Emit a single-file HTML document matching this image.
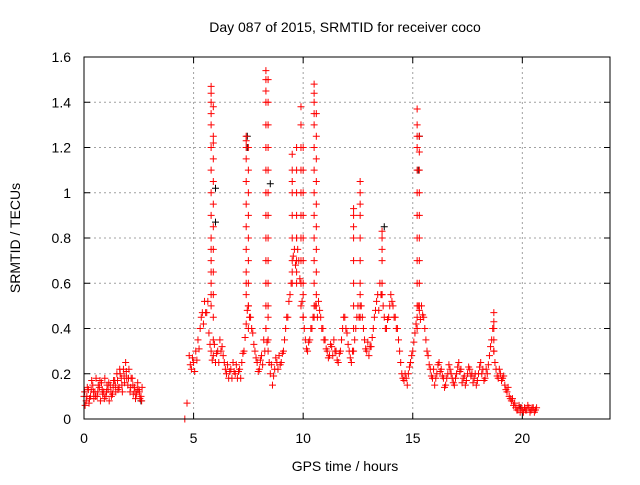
<!DOCTYPE html>
<html><head><meta charset="utf-8"><style>
body{margin:0;background:#fff}
svg text{font-family:"Liberation Sans",sans-serif;font-size:14px;fill:#000}
</style></head><body>
<svg id="chart" width="640" height="480" viewBox="0 0 640 480" xmlns="http://www.w3.org/2000/svg">
<rect width="640" height="480" fill="#fff"/>
<text x="345" y="32" text-anchor="middle">Day 087 of 2015, SRMTID for receiver coco</text>
<text transform="translate(20,238) rotate(-90)" text-anchor="middle">SRMTID / TECUs</text>
<text x="345" y="471" text-anchor="middle">GPS time / hours</text>
<g id="grid"></g><g id="ticks"></g><g id="marks"></g>
<rect x="84" y="57" width="526" height="362" fill="none" stroke="#000" stroke-width="1"/>
</svg>
<script>
const xTicks=[0,5,10,15,20];
const yTicks=[0,0.2,0.4,0.6,0.8,1,1.2,1.4,1.6];
const yTickLabels=["0","0.2","0.4","0.6","0.8","1","1.2","1.4","1.6"];
const earlyStart=0.0, step=0.1;
const earlyValues=[0.10,0.08,0.13,0.10,0.15,0.12,0.10,0.14,0.16,0.12,0.10,0.13,0.15,0.11,0.17,0.20,0.14,0.18,0.22,0.25,0.15,0.12,0.18,0.14,0.11,0.13,0.10];
const earlyValues2=[0.06,0.14,0.09,0.17,0.09,0.18,0.15,0.08,0.11,0.18,0.15,0.08,0.10,0.17,0.12,0.13,0.20,0.12,0.16,0.18,0.22,0.18,0.11,0.09,0.16,0.09,0.14];
const earlyValues3=[0.12,0.10,0.07,0.13,0.12,0.10,0.12,0.17,0.13,0.09,0.12,0.16,0.12,0.14,0.15,0.17,0.22,0.15,0.19,0.21,0.18,0.14,0.15,0.12,0.13,0.12,0.08];
const gapPoints=[[4.6,0.0],[4.7,0.07]];
const mainStart=4.8;
const mainValues=[0.28,0.22,0.25,0.30,0.35,0.40,0.47,0.52,0.47,0.38,0.30,0.28,0.25,0.30,0.35,0.32,0.25,0.20,0.18,0.22,0.25,0.20,0.18,0.22,0.25,0.30,0.42,0.50,0.45,0.38,0.30,0.25,0.22,0.28,0.35,0.40,0.30,0.20,0.15,0.22,0.25,0.28,0.25,0.30,0.40,0.45,0.55,0.65,0.75,0.80,0.70,0.60,0.45,0.35,0.30,0.35,0.40,0.45,0.50,0.52,0.45,0.40,0.35,0.30,0.28,0.32,0.35,0.30,0.25,0.30,0.40,0.45,0.38,0.30,0.25,0.30,0.40,0.50,0.55,0.45,0.35,0.30,0.28,0.32,0.40,0.48,0.55,0.60,0.55,0.45,0.40,0.45,0.55,0.50,0.45,0.40,0.30,0.20,0.17,0.18,0.20,0.25,0.30,0.38,0.45,0.48,0.50,0.45,0.35,0.28,0.22,0.18,0.15,0.20,0.25,0.22,0.18,0.15,0.20,0.22,0.18,0.15,0.20,0.25,0.22,0.18,0.15,0.20,0.22,0.20,0.18,0.15,0.20,0.25,0.22,0.18,0.20,0.28,0.35,0.30,0.22,0.18,0.20,0.18,0.15,0.12,0.10,0.08,0.06,0.05,0.04,0.03,0.04,0.05,0.04,0.05,0.04,0.05,0.04];
const mainValues2=[0.24,0.27,0.21,0.26,0.31,0.45,0.42,0.47,0.52,0.33,0.26,0.33,0.29,0.25,0.30,0.28,0.22,0.24,0.21,0.18,0.21,0.24,0.21,0.18,0.29,0.36,0.48,0.45,0.40,0.33,0.27,0.21,0.26,0.24,0.30,0.34,0.25,0.24,0.19,0.27,0.22,0.24,0.29,0.35,0.45,0.52,0.60,0.72,0.68,0.75,0.62,0.52,0.40,0.31,0.34,0.40,0.45,0.50,0.45,0.48,0.40,0.35,0.31,0.27,0.33,0.28,0.30,0.26,0.29,0.35,0.45,0.40,0.33,0.27,0.30,0.35,0.45,0.45,0.50,0.40,0.31,0.34,0.32,0.36,0.45,0.52,0.48,0.55,0.50,0.40,0.44,0.50,0.52,0.45,0.40,0.35,0.25,0.18,0.20,0.15,0.23,0.28,0.34,0.42,0.50,0.44,0.46,0.40,0.30,0.24,0.19,0.22,0.18,0.24,0.21,0.19,0.14,0.18,0.24,0.20,0.16,0.18,0.23,0.21,0.16,0.19,0.17,0.23,0.19,0.16,0.20,0.17,0.23,0.20,0.17,0.22,0.24,0.32,0.40,0.25,0.19,0.22,0.17,0.19,0.13,0.14,0.09,0.09,0.07,0.04,0.06,0.05,0.03,0.04,0.06,0.03,0.05,0.03,0.05];
const spikeTimes=[5.8,5.9,7.4,7.5,8.3,8.4,9.5,9.7,9.9,10.0,10.5,10.6,12.3,12.6,13.6,15.2,15.3,18.7];
const spikeValues=[
[0.5,0.55,0.6,0.65,0.7,0.75,0.8,0.9,1.0,1.1,1.2,1.3,1.35,1.4,1.44,1.47],
[0.35,0.45,0.55,0.65,0.75,0.85,0.95,1.05,1.15,1.22,1.25,1.38],
[0.55,0.6,0.65,0.75,0.85,0.95,1.05,1.15,1.2,1.23,1.25],
[0.4,0.5,0.6,0.7,0.8,0.9,1.0,1.1,1.2],
[0.5,0.6,0.7,0.8,0.9,1.0,1.1,1.2,1.3,1.4,1.45,1.5,1.54],
[0.35,0.45,0.5,0.6,0.7,0.8,0.9,1.0,1.1,1.2,1.3,1.4,1.5],
[0.6,0.7,0.8,0.9,1.0,1.05,1.1,1.17],
[0.6,0.65,0.7,0.8,0.9,1.0,1.1,1.2],
[0.5,0.6,0.7,0.8,0.9,1.0,1.1,1.2,1.3,1.38],
[0.45,0.55,0.6,0.7,0.8,0.9,1.0,1.1,1.2],
[0.5,0.6,0.7,0.8,0.9,1.0,1.1,1.2,1.3,1.35,1.4,1.44,1.48],
[0.55,0.65,0.75,0.85,0.95,1.05,1.15,1.25,1.35],
[0.4,0.5,0.6,0.7,0.8,0.85,0.9,0.93],
[0.45,0.5,0.6,0.7,0.8,0.9,0.95,1.0,1.05],
[0.55,0.6,0.7,0.75,0.8,0.83],
[0.4,0.5,0.6,0.7,0.8,0.9,1.0,1.1,1.2,1.25,1.3,1.37],
[0.5,0.6,0.7,0.8,0.9,1.0,1.1,1.18,1.25],
[0.3,0.35,0.4,0.43,0.47]];
const blackPoints=[[7.45,1.25],[7.45,1.2],[15.3,1.25],[15.25,1.1],[13.7,0.85],[8.5,1.04],[6.0,1.02],[6.0,0.87],[2.6,0.08],[19.9,0.05]];

const X=v=>84+v*(526/24), Y=v=>419-v*(362/1.6);
const NS="http://www.w3.org/2000/svg";
const grid=document.getElementById('grid'),ticks=document.getElementById('ticks'),marks=document.getElementById('marks');
function line(p,x1,y1,x2,y2,st,dash){const l=document.createElementNS(NS,'line');l.setAttribute('x1',x1);l.setAttribute('y1',y1);l.setAttribute('x2',x2);l.setAttribute('y2',y2);l.setAttribute('stroke',st);if(dash)l.setAttribute('stroke-dasharray',dash);p.appendChild(l);return l;}
xTicks.forEach(t=>{const x=X(t);
 const g=line(grid,x,57,x,419,'#a0a0a0','2,3');
 
 
 line(ticks,x,419,x,413,'#000');line(ticks,x,57,x,63,'#000');
 const tx=document.createElementNS(NS,'text');tx.setAttribute('x',x);tx.setAttribute('y',443);tx.setAttribute('text-anchor','middle');tx.textContent=t;
 
 
 ticks.appendChild(tx);});
yTicks.forEach((t,i)=>{const y=Y(t);
 const g=line(grid,84,y,610,y,'#a0a0a0','2,3');
 
 
 line(ticks,84,y,90,y,'#000');line(ticks,610,y,604,y,'#000');
 const tx=document.createElementNS(NS,'text');tx.setAttribute('x',71);tx.setAttribute('y',y+5);tx.setAttribute('text-anchor','end');tx.textContent=yTickLabels[i];
 
 
 ticks.appendChild(tx);});
function plus(t,v,c){const x=X(t),y=Y(v);const p=document.createElementNS(NS,'path');
 p.setAttribute('d',`M${x-3.5} ${y}H${x+3.5}M${x} ${y-3.5}V${y+3.5}`);p.setAttribute('stroke',c);p.setAttribute('stroke-width','1');
 
 
 marks.appendChild(p);}
blackPoints.forEach(p=>plus(p[0],p[1],'#000'));
earlyValues.forEach((v,i)=>plus(earlyStart+i*step,v,'#f00'));
earlyValues2.forEach((v,i)=>plus(earlyStart+i*step+0.05,v,'#f00'));
earlyValues3.forEach((v,i)=>plus(earlyStart+i*step+0.03,v,'#f00'));
gapPoints.forEach(p=>plus(p[0],p[1],'#f00'));
mainValues.forEach((v,i)=>plus(mainStart+i*step,v,'#f00'));
mainValues2.forEach((v,i)=>plus(mainStart+i*step+0.05,v,'#f00'));
spikeTimes.forEach((t,i)=>spikeValues[i].forEach(v=>plus(t,v,'#f00')));
</script>
</body></html>
